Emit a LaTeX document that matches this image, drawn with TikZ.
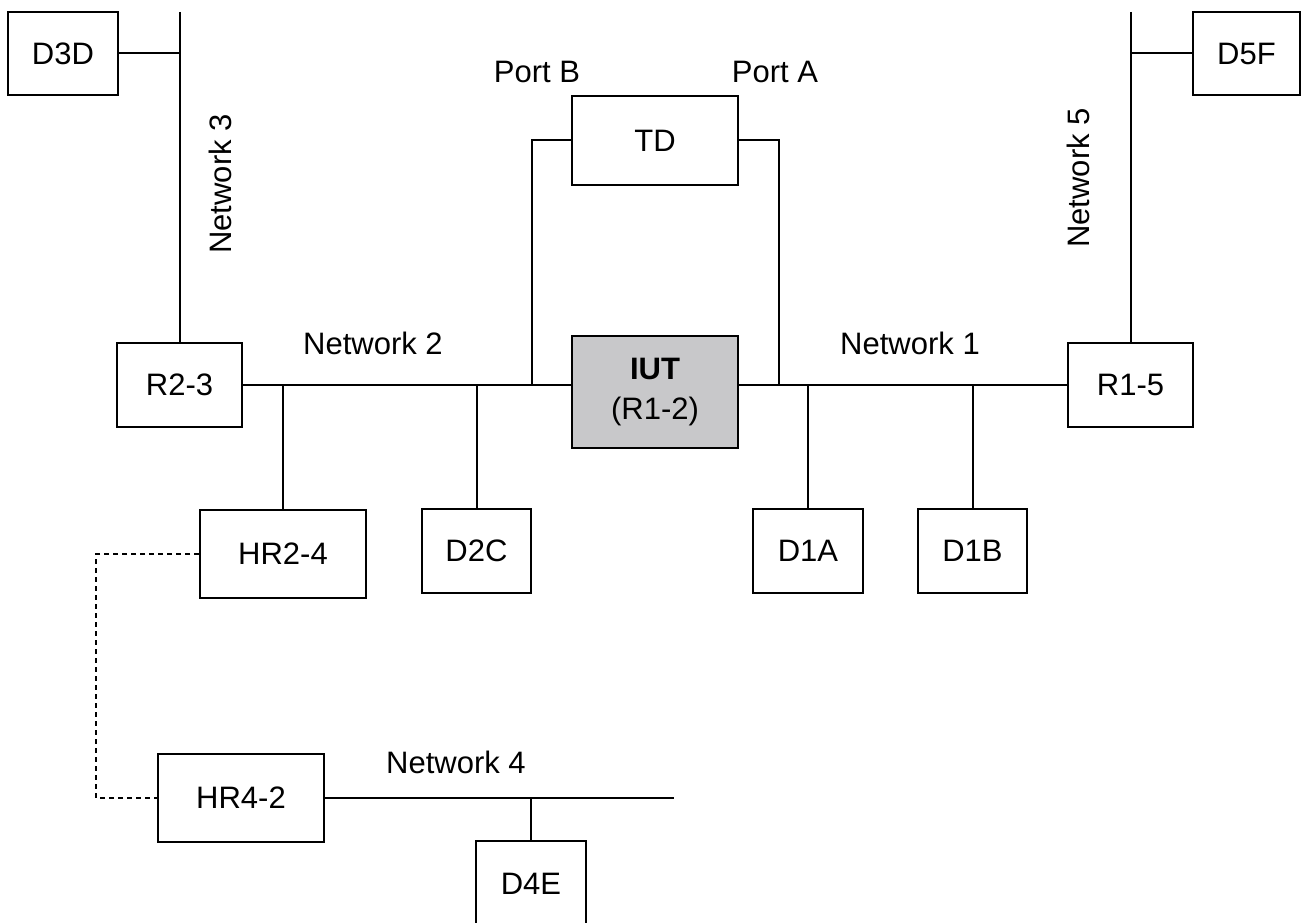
\documentclass[tikz,border=0pt]{standalone}
\usepackage{fontspec}
\setmainfont{Liberation Sans}
\definecolor{iutgray}{RGB}{200,200,202}
\begin{document}
\begin{tikzpicture}[x=1pt,y=-1pt,
  box/.style={draw=black, line width=2pt, inner sep=0pt, font=\fontsize{31}{36}\selectfont},
  lbl/.style={inner sep=0pt, font=\fontsize{31}{36}\selectfont},
  wire/.style={line width=2pt},
  dots/.style={line width=2pt, dash pattern=on 5pt off 4pt}]
\useasboundingbox (0,0) rectangle (1301,923);
% boxes
\node[box, minimum width=110pt, minimum height=83pt] (D3D) at (63,53.5) {D3D};
\node[box, minimum width=107pt, minimum height=83pt] (D5F) at (1246.5,53.5) {D5F};
\node[box, minimum width=166pt, minimum height=89pt] (TD) at (655,140.5) {TD};
\node[box, fill=iutgray, minimum width=166pt, minimum height=112pt, align=center] (IUT) at (655,392) {\textbf{IUT}\\[4pt](R1-2)};
\node[box, minimum width=125pt, minimum height=84pt] (R23) at (179.5,385) {R2-3};
\node[box, minimum width=125pt, minimum height=84pt] (R15) at (1130.5,385) {R1-5};
\node[box, minimum width=166pt, minimum height=88pt] (HR24) at (283,554) {HR2-4};
\node[box, minimum width=109pt, minimum height=84pt] (D2C) at (476.5,551) {D2C};
\node[box, minimum width=110pt, minimum height=84pt] (D1A) at (808,551) {D1A};
\node[box, minimum width=109pt, minimum height=84pt] (D1B) at (972.5,551) {D1B};
\node[box, minimum width=166pt, minimum height=88pt] (HR42) at (241,798) {HR4-2};
\node[box, minimum width=110pt, minimum height=86pt] (D4E) at (531,884) {D4E};
% coordinates
\coordinate (n3top) at (179.5,12);
\coordinate (n5top) at (1130.5,12);
\coordinate (pb) at (532,385);
\coordinate (pa) at (779,385);
\coordinate (dl) at (96,554);
\coordinate (n4end) at (674,798);
% network 3 and 5
\draw[wire] (n3top) -- (R23.north);
\draw[wire] (D3D.east) -- (D3D.east -| n3top);
\draw[wire] (n5top) -- (R15.north);
\draw[wire] (D5F.west) -- (D5F.west -| n5top);
% network 2
\draw[wire] (R23.east) -- (R23.east -| IUT.west);
\draw[wire] (HR24.north) -- (HR24.north |- R23.east);
\draw[wire] (D2C.north) -- (D2C.north |- R23.east);
\draw[wire] (pb) |- (TD.west);
% network 1
\draw[wire] (IUT.east |- R15.west) -- (R15.west);
\draw[wire] (D1A.north) -- (D1A.north |- R15.west);
\draw[wire] (D1B.north) -- (D1B.north |- R15.west);
\draw[wire] (pa) |- (TD.east);
% dotted link
\draw[dots] (HR24.west) -- (dl) |- (HR42.west);
% network 4
\draw[wire] (HR42.east) -- (n4end);
\draw[wire] (D4E.north) -- (D4E.north |- HR42.east);
% labels
\node[lbl] (lpb) at (537,72) {Port B};
\node[lbl] (lpa) at (775,72) {Port A};
\node[lbl] (ln2) at (373,343) {Network 2};
\node[lbl] (ln1) at (910,343) {Network 1};
\node[lbl] (ln4) at (456,762) {Network 4};
\node[lbl, rotate=90] (ln3) at (220,184) {Network 3};
\node[lbl, rotate=90] (ln5) at (1078,178) {Network 5};
\end{tikzpicture}
\end{document}
